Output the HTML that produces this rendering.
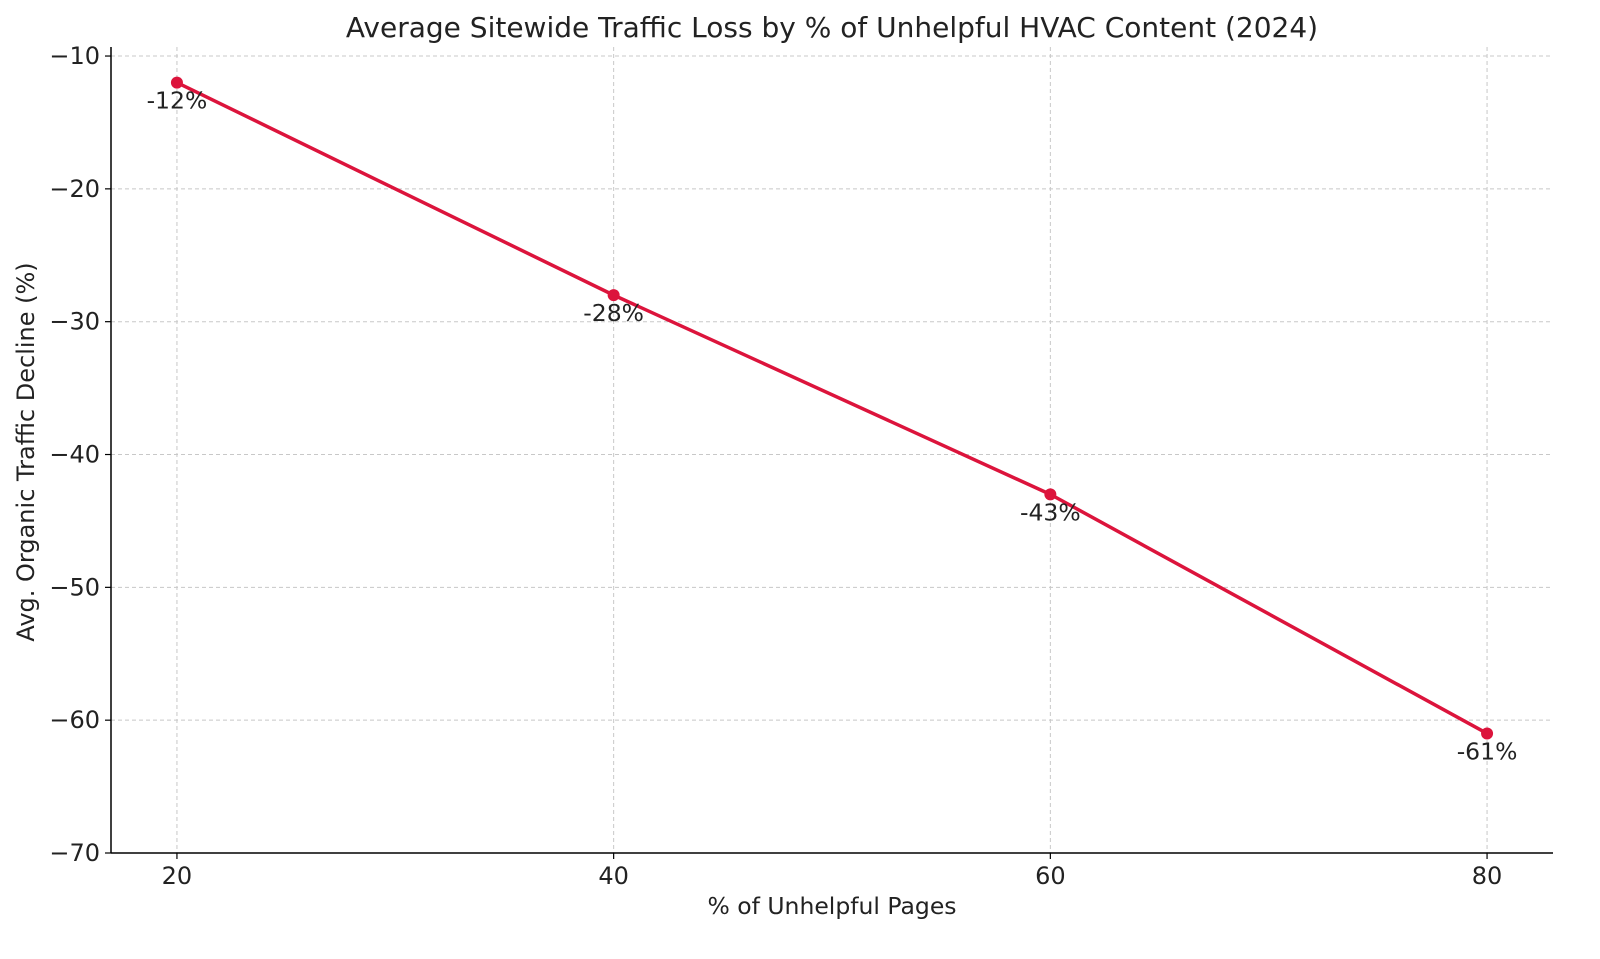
<!DOCTYPE html>
<html><head><meta charset="utf-8"><style>
body{margin:0;background:#fff;}
svg text{font-family:"DejaVu Sans","Liberation Sans",sans-serif;fill:#222;}
</style></head><body>
<svg id="chart" width="1600" height="954" xmlns="http://www.w3.org/2000/svg">
<rect width="1600" height="954" fill="#fff"/>
<text x="832" y="37" font-size="28" text-anchor="middle">Average Sitewide Traffic Loss by % of Unhelpful HVAC Content (2024)</text>
<g id="grid"></g>
<g id="axes"></g>
<g id="series"></g>
<text x="832" y="914" font-size="23.5" text-anchor="middle">% of Unhelpful Pages</text>
<text transform="translate(34,452) rotate(-90)" font-size="24" text-anchor="middle">Avg. Organic Traffic Decline (%)</text>
</svg>
<script>
const categories=[20,40,60,80];
const values=[-12,-28,-43,-61];
const pointLabels=["-12%","-28%","-43%","-61%"];
const xTicks=[20,40,60,80];
const yTicks=[-10,-20,-30,-40,-50,-60,-70];

const L=111,R=1553,T=47,B=853;
const xMin=16.98,xMax=83.02,yMin=-70,yMax=-9.32;
const xs=v=>L+(v-xMin)/(xMax-xMin)*(R-L);
const ys=v=>B-(v-yMin)/(yMax-yMin)*(B-T);
const NS="http://www.w3.org/2000/svg";
function mk(tag,parent,attrs){const e=document.createElementNS(NS,tag);for(const k in attrs)e.setAttribute(k,attrs[k]);parent.appendChild(e);return e;}
const grid=document.getElementById('grid'),axes=document.getElementById('axes'),ser=document.getElementById('series');
xTicks.forEach(t=>{
 const g=mk('line',grid,{x1:xs(t),x2:xs(t),y1:T,y2:B,stroke:'#c8c8c8','stroke-dasharray':'4,3','stroke-width':1});
 
 
 const tk=mk('line',axes,{x1:xs(t),x2:xs(t),y1:B,y2:B+6,stroke:'#000','stroke-width':1.2});
 
 
 const tx=mk('text',axes,{x:xs(t),y:B+31,'font-size':24,'text-anchor':'middle'});
 tx.textContent=t;
 
 
});
yTicks.forEach(t=>{
 const g=mk('line',grid,{x1:L,x2:R,y1:ys(t),y2:ys(t),stroke:'#c8c8c8','stroke-dasharray':'4,3','stroke-width':1});
 
 
 const tk=mk('line',axes,{x1:L-6,x2:L,y1:ys(t),y2:ys(t),stroke:'#000','stroke-width':1.2});
 
 
 const tx=mk('text',axes,{x:L-11,y:ys(t)+8,'font-size':24,'text-anchor':'end'});
 tx.textContent='\u2212'+Math.abs(t);
 
 
});
const sl=mk('line',axes,{x1:L,x2:L,y1:T,y2:B,stroke:'#000','stroke-width':1.5});


const sb=mk('line',axes,{x1:L,x2:R,y1:B,y2:B,stroke:'#000','stroke-width':1.5});


const pts=categories.map((c,i)=>xs(c)+','+ys(values[i])).join(' ');
const pl=mk('polyline',ser,{points:pts,fill:'none',stroke:'#dc143c','stroke-width':3.5,'stroke-linejoin':'round'});


categories.forEach((c,i)=>{
 const p=mk('circle',ser,{cx:xs(c),cy:ys(values[i]),r:6,fill:'#dc143c'});
 
 
 const t=mk('text',ser,{x:xs(c),y:ys(values[i])+26,'font-size':23.5,'text-anchor':'middle'});
 t.textContent=pointLabels[i];
 
 
});
</script>
</body></html>
